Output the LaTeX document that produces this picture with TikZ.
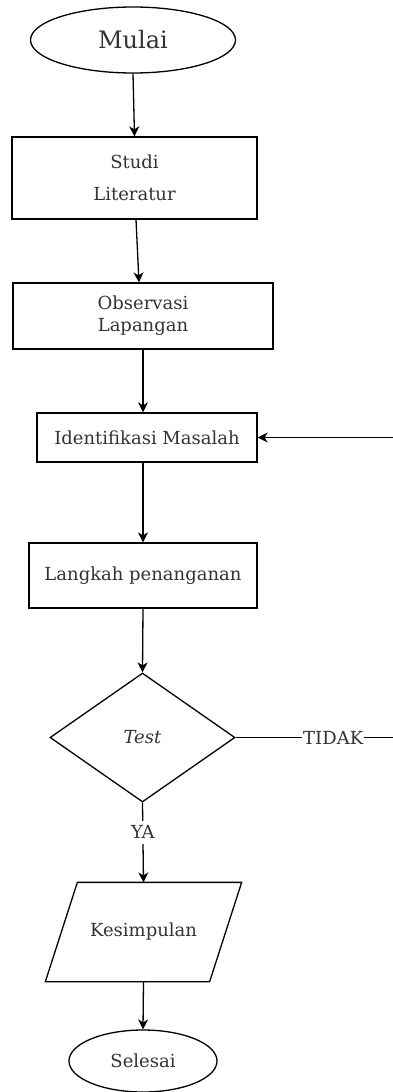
\documentclass[tikz,border=0pt]{standalone}
\usepackage{fontspec}
\setmainfont{DejaVu Serif}
\usetikzlibrary{arrows.meta,shapes.geometric}
\tikzset{
  chartbox/.style={draw, line width=1.3pt, align=center, inner sep=4pt, text=black!80, font=\fontsize{18}{22}\selectfont},
  chartterm/.style={chartbox, ellipse},
  chartdecision/.style={chartbox, diamond, inner sep=0pt},
  chartio/.style={chartbox, draw=none},
  chartarrow/.style={-{Stealth[length=10pt, width=10pt, inset=3pt]}, line width=1.3pt},
  chartline/.style={line width=1.3pt},
  chartlabel/.style={fill=white, inner xsep=1pt, inner ysep=5pt, text=black!80, font=\fontsize{18}{20}\selectfont}
}
\begin{document}
\begin{tikzpicture}[x=1pt, y=-1pt]
  \useasboundingbox (0,0) rectangle (393,1092);
  \node[chartterm, minimum width=205pt, minimum height=66pt, font=\fontsize{24}{28}\selectfont] (mulai) at (133,40) {Mulai};
  \node[chartbox, minimum width=245pt, minimum height=82pt] (studi) at (134.5,178) {Studi\\[10pt]Literatur};
  \node[chartbox, minimum width=260pt, minimum height=66pt] (observasi) at (143,316) {Observasi\\Lapangan};
  \node[chartbox, minimum width=220pt, minimum height=49pt] (identifikasi) at (147,437.5) {Identifikasi Masalah};
  \node[chartbox, minimum width=228pt, minimum height=65pt] (langkah) at (143,575.5) {Langkah penanganan};
  \node[chartdecision, minimum width=185pt, minimum height=129pt] (test) at (142.5,737.5) {\textit{Test}};
  \node[chartio, minimum width=163pt, minimum height=98pt] (kesimpulan) at (143.5,932) {Kesimpulan};
  \node[chartterm, minimum width=148pt, minimum height=62pt] (selesai) at (143,1061) {Selesai};
  \coordinate (kembali) at (393,437.5);
  \coordinate (tidak) at (393,737.5);
  % parallelogram outline round the Kesimpulan node
  \draw[chartline] ([xshift=16pt]kesimpulan.north west) -- ([xshift=16pt]kesimpulan.north east)
    -- ([xshift=-16pt]kesimpulan.south east) -- ([xshift=-16pt]kesimpulan.south west) -- cycle;
  \draw[chartarrow] (mulai.south) -- (studi.north);
  \draw[chartarrow] ([xshift=1.5pt]studi.south) -- ([xshift=-4pt]observasi.north);
  \draw[chartarrow] (observasi.south) -- (observasi.south |- identifikasi.north);
  \draw[chartarrow] (kembali) -- (identifikasi.east);
  \draw[chartarrow] (identifikasi.south -| langkah.north) -- (langkah.north);
  \draw[chartarrow] (langkah.south) -- (test.north);
  \draw[chartline] (test.east) -- node[chartlabel, pos=0.62] {TIDAK} (tidak);
  \draw[chartarrow] (test.south) -- node[chartlabel, pos=0.37] {YA} (kesimpulan.north);
  \draw[chartarrow] (kesimpulan.south) -- (selesai.north);
\end{tikzpicture}
\end{document}
